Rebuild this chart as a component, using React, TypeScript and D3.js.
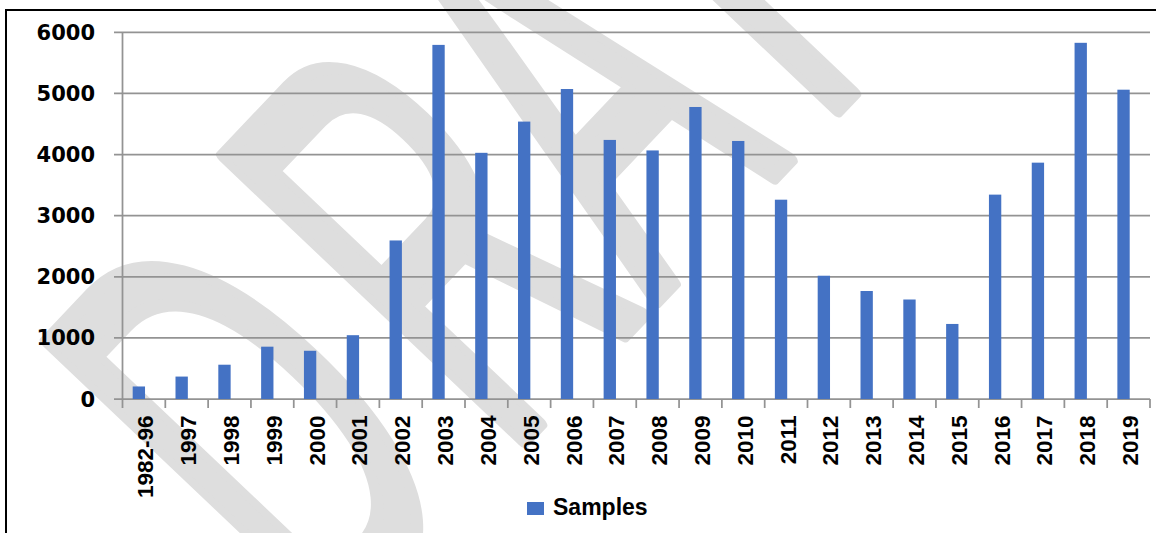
import * as d3 from "d3";
import React from "react";

const CATEGORIES = [
  "1982-96", "1997", "1998", "1999", "2000", "2001", "2002", "2003",
  "2004", "2005", "2006", "2007", "2008", "2009", "2010", "2011",
  "2012", "2013", "2014", "2015", "2016", "2017", "2018", "2019",
];
const SAMPLES = [
  205, 367, 561, 856, 789, 1044, 2594, 5794,
  4028, 4539, 5072, 4239, 4067, 4778, 4222, 3261,
  2017, 1767, 1628, 1228, 3344, 3867, 5828, 5061,
];
const Y_TICKS = [0, 1000, 2000, 3000, 4000, 5000, 6000];
const SERIES_NAME = "Samples";
const WATERMARK = ["D", "R", "A", "F", "T"];

const WIDTH = 1156;
const HEIGHT = 533;
const BAR_COLOR = "#4472c4";
const GRID_COLOR = "#939393";

export default function App() {
  const x = d3.scaleBand<string>().domain(CATEGORIES).range([122.5, 1150]).padding(0);
  const y = d3.scaleLinear().domain([0, 6000]).range([399, 32.3]);
  const bw = x.bandwidth();

  // letter offsets along the rotated baseline of the watermark
  const wmX = [-573, -317, -100, 139, 330];

  return (
    <svg
      width={WIDTH}
      height={HEIGHT}
      style={{ position: "absolute", left: 0, top: 0, background: "#fff" }}
    >
      <rect width={WIDTH} height={HEIGHT} fill="#fff" />

      {/* watermark */}
      <g transform="translate(723,230) rotate(-46.5) scale(1,2)">
        {WATERMARK.map((ch, i) => (
          <text
            key={ch}
            x={wmX[i]}
            y={0}
            fontFamily="Liberation Sans, Arial, sans-serif"
            fontSize={300}
            fill="#dedede"
            stroke="#dedede"
            strokeWidth={8}
            strokeLinejoin="round"
          >
            {ch}
          </text>
        ))}
      </g>

      <rect x={6} y={10} width={1160} height={540} fill="none" stroke="#000" strokeWidth={2} />

      {/* gridlines + y labels */}
      {Y_TICKS.map((t) => (
        <g key={t}>
          <line x1={114} x2={1150} y1={y(t)} y2={y(t)} stroke={GRID_COLOR} strokeWidth={1.75} />
          <text
            x={95}
            y={y(t)}
            dy="0.36em"
            textAnchor="end"
            fontFamily="DejaVu Sans, Verdana, sans-serif"
            fontWeight="bold"
            fontSize={21}
            fill="#000"
          >
            {t}
          </text>
        </g>
      ))}

      {/* y axis line */}
      <line x1={x.range()[0]} x2={x.range()[0]} y1={y(6000)} y2={408} stroke={GRID_COLOR} strokeWidth={1.75} />

      {/* category ticks */}
      {CATEGORIES.map((c) => (
        <line
          key={"t" + c}
          x1={(x(c) as number) + bw}
          x2={(x(c) as number) + bw}
          y1={y(0)}
          y2={408}
          stroke={GRID_COLOR}
          strokeWidth={1.75}
        />
      ))}

      {/* bars */}
      {CATEGORIES.map((c, i) => (
        <rect
          key={"b" + c}
          x={(x(c) as number) + bw * 0.238}
          width={bw * 0.288}
          y={y(SAMPLES[i])}
          height={y(0) - y(SAMPLES[i])}
          fill={BAR_COLOR}
        />
      ))}

      {/* x labels */}
      {CATEGORIES.map((c) => {
        const cx = (x(c) as number) + bw / 2 + 2;
        return (
          <text
            key={"l" + c}
            transform={`translate(${cx},415.5) rotate(-90)`}
            textAnchor="end"
            dominantBaseline="central"
            fontFamily="Liberation Sans, Arial, sans-serif"
            fontWeight="bold"
            fontSize={22.5}
            fill="#000"
          >
            {c}
          </text>
        );
      })}

      {/* legend */}
      <rect x={527} y={502} width={17} height={13} fill={BAR_COLOR} />
      <text
        x={553}
        y={515}
        fontFamily="Liberation Sans, Arial, sans-serif"
        fontWeight="bold"
        fontSize={23}
        fill="#000"
      >
        {SERIES_NAME}
      </text>
    </svg>
  );
}
